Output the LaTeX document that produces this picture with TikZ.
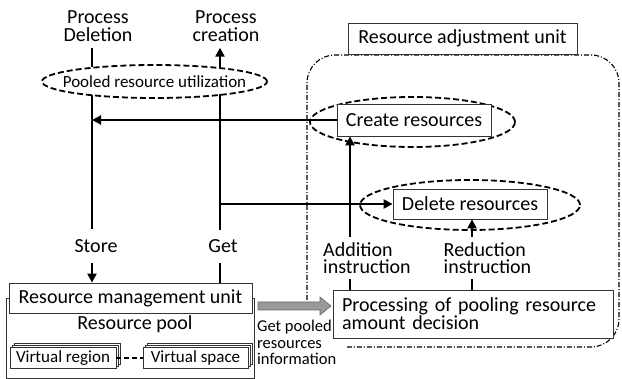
\documentclass[tikz,border=0pt]{standalone}
\usepackage{fontspec}
\setmainfont{Carlito}
\usetikzlibrary{arrows.meta,shapes.geometric,calc}
\begin{document}
\begin{tikzpicture}[x=1pt,y=-1pt,
  every node/.style={font=\fontsize{20}{18}\selectfont, inner sep=0pt},
  box/.style={draw=black!80, line width=0.8pt, fill=white},
  vbox/.style={box, font=\fontsize{17}{17}\selectfont, minimum height=21pt},
  ell/.style={ellipse, draw=black, line width=1.8pt, dash pattern=on 6pt off 3pt},
  flow/.style={line width=2.2pt},
  arr/.style={flow, -{Triangle[length=9pt,width=9pt]}},
  unit/.style={line width=1.1pt, dash pattern=on 5pt off 2pt on 1pt off 2pt, rounded corners=28pt}
]
\useasboundingbox (0,0) rectangle (622,379);

% x positions of the vertical connectors
\coordinate (L) at (92,0);
\coordinate (R) at (220,0);
\coordinate (A) at (350,0);
\coordinate (D) at (472,0);

% resource adjustment unit region
\draw[unit] (307,300) -- (307,55) -- (619,55) -- (619,347) -- (347,347);

% top labels
\node[align=center, inner ysep=6pt] (pdel) at (98,26) {Process\\Deletion};
\node[align=center, inner ysep=6pt] (pcre) at (226,26) {Process\\creation};

% pooled resource utilization
\node[ell, minimum width=225pt, minimum height=33pt] (pool) at (154.5,81.5) {};
\node[font=\fontsize{17}{17}\selectfont] (poolt) at (pool) {Pooled resource utilization};
\coordinate (Ltop) at (92,67.5);
\coordinate (Lbot) at (92,95);
\coordinate (Rtop) at (220,68);
\coordinate (Rbot) at (220,94.5);

% resource adjustment unit
\node[box, minimum width=229pt, minimum height=31pt] (rau) at (462.5,38.5) {Resource adjustment unit};
\node[ell, minimum width=205pt, minimum height=50pt] (cre) at (412.5,122) {};
\node[box, minimum width=154pt, minimum height=32pt] (create) at (414,120) {Create resources};
\node[ell, minimum width=220pt, minimum height=50pt] (dele) at (470,205) {};
\node[box, minimum width=154pt, minimum height=30pt] (delete) at (470,204) {Delete resources};
\node[box, minimum width=280pt, minimum height=48pt, text width=262pt, align=left] (proc) at (473,314)
  {Processing of pooling resource\\amount decision};

% resource pool
\node[box, minimum width=248pt, minimum height=80pt] (rp) at (130,338) {};
\node[box, minimum width=243pt, minimum height=30pt] (rmu) at (130.5,298) {Resource management unit};
\node (rpt) at (135,324) {Resource pool};
\node[vbox, minimum width=106pt] (vr2) at (67,354) {};
\node[vbox, minimum width=106pt] (vr1) at (65,356) {};
\node[vbox, minimum width=106pt] (vr) at (63,358) {Virtual region};
\node[vbox, minimum width=105pt] (vs2) at (199.5,354) {};
\node[vbox, minimum width=105pt] (vs1) at (197.5,356) {};
\node[vbox, minimum width=105pt] (vs) at (195.5,358) {Virtual space};
\draw[line width=2pt, dash pattern=on 5pt off 3pt] (vr) -- (vs);

% labels on connectors
\node[inner ysep=10pt] (store) at (96,246) {Store};
\node[inner ysep=10pt] (get) at (223,246.5) {Get};
\node[align=left, font=\fontsize{20}{17}\selectfont, inner sep=5pt] (addl) at (367,258) {Addition\\instruction};
\node[align=left, font=\fontsize{20}{17}\selectfont, inner sep=5pt] (redl) at (487.5,258) {Reduction\\instruction};
\node[align=left, font=\fontsize{16.5}{16.5}\selectfont, anchor=north west] (gpl) at (257,320) {Get pooled\\resources\\information};

% connectors
\draw[flow] (pdel.south -| L) -- (Ltop);
\draw[flow] (Lbot) -- (store.north -| L);
\draw[arr] (store.south -| L) -- (rmu.north -| L);
\draw[flow] (rmu.north -| R) -- (get.south -| R);
\draw[flow] (get.north -| R) -- (Rbot);
\draw[arr] (Rtop) -- (pcre.south -| R);
\draw[arr] (create.west) -- (create.west -| L);
\draw[arr] (delete.west -| R) -- (delete.west);
\draw[flow] (proc.north -| A) -- (addl.south -| A);
\draw[arr] (addl.north -| A) -- (create.south -| A);
\draw[flow] (proc.north -| D) -- (redl.south -| D);
\draw[arr] (redl.north -| D) -- (delete.south -| D);

% grey block arrow: get pooled resources information
\draw[fill=gray!80, draw=black!60, line width=0.6pt]
  (258,302) -- (320,302) -- (320,297) -- (331,306) -- (320,315) -- (320,310) -- (258,310) -- cycle;
\end{tikzpicture}
\end{document}
